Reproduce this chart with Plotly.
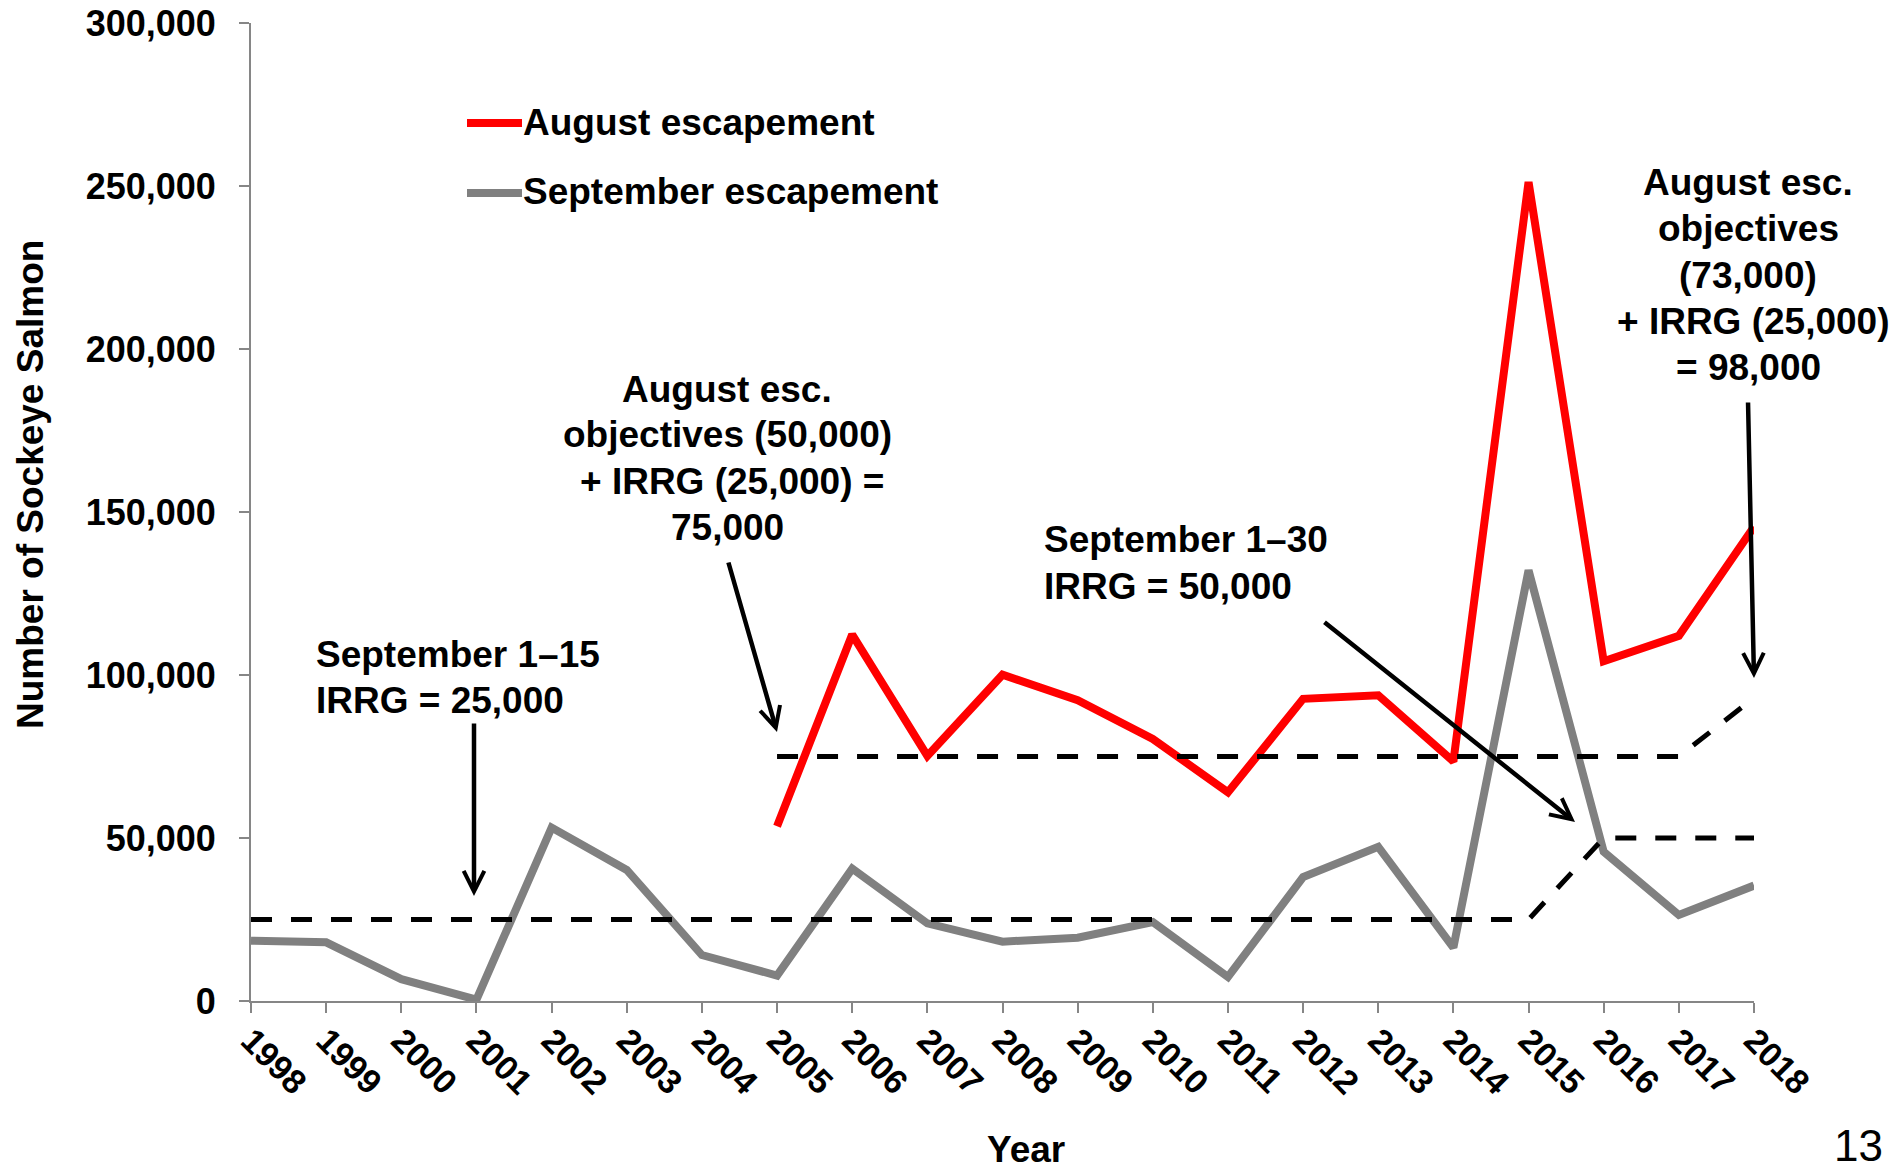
import plotly.graph_objects as go

# ---------------- data ----------------
years = [1998, 1999, 2000, 2001, 2002, 2003, 2004, 2005, 2006, 2007, 2008,
         2009, 2010, 2011, 2012, 2013, 2014, 2015, 2016, 2017, 2018]
year_labels = [str(y) for y in years]

sep_escapement = [18500, 18000, 6700, 400, 53200, 40200, 14100, 7800, 40600,
                  23800, 18200, 19400, 24200, 7400, 38000, 47300, 16400,
                  132100, 45800, 26400, 35400]

aug_years = [2005, 2006, 2007, 2008, 2009, 2010, 2011, 2012, 2013, 2014,
             2015, 2016, 2017, 2018]
aug_escapement = [53600, 112400, 75200, 100100, 92300, 80400, 64000, 92700,
                  93800, 73500, 251200, 104200, 112000, 145500]

sep_irrg = [25000, 25000, 25000, 25000, 25000, 25000, 25000, 25000, 25000,
            25000, 25000, 25000, 25000, 25000, 25000, 25000, 25000, 25000,
            50000, 50000, 50000]

aug_goal = [75000, 75000, 75000, 75000, 75000, 75000, 75000, 75000, 75000,
            75000, 75000, 75000, 75000, 93000]

y_ticks = [0, 50000, 100000, 150000, 200000, 250000, 300000]

# ---------------- layout geometry (pixels, as seen on screen) ----------------
FIG_W, FIG_H = 1903, 1168
PAGE_OFF = 8  # default body margin of the html page
L, R, T, B = 251, 1754, 23, 1001
W, H = R - L, B - T
FONT = "Liberation Sans, Arial, sans-serif"


def xp(px):
    return (px - L) / W


def yp(py):
    return (B - py) / H


fig = go.Figure()

fig.add_trace(go.Scatter(x=years, y=sep_escapement, mode="lines",
                         line=dict(color="#808080", width=8),
                         name="September escapement", showlegend=False))
fig.add_trace(go.Scatter(x=aug_years, y=aug_escapement, mode="lines",
                         line=dict(color="#FF0000", width=8),
                         name="August escapement", showlegend=False))
fig.add_trace(go.Scatter(x=years, y=sep_irrg, mode="lines",
                         line=dict(color="black", width=5, dash="21px,19px"),
                         showlegend=False))
fig.add_trace(go.Scatter(x=aug_years, y=aug_goal, mode="lines",
                         line=dict(color="black", width=5, dash="21px,19px"),
                         showlegend=False))

annotations = []


def txt(text, x, baseline, anchor="center", size=37, weight="bold",
        color="black"):
    if anchor == "left":
        x -= 4
    elif anchor == "right":
        x += 4
    annotations.append(dict(
        text=text, x=xp(x), y=yp(baseline - 0.3465 * size),
        xref="paper", yref="paper", xanchor=anchor, yanchor="middle",
        showarrow=False,
        font=dict(family=FONT, size=size, color=color, weight=weight)))


# block 1
txt("September 1–15", 318, 667, "left")
txt("IRRG = 25,000", 318, 713, "left")
# block 2
txt("August esc.", 727, 402)
txt("objectives (50,000)", 727, 447)
txt("+ IRRG (25,000) =", 732, 494)
txt("75,000", 727, 540)
# block 3
txt("September 1–30", 1046, 552, "left")
txt("IRRG = 50,000", 1046, 599, "left")
# block 4
txt("August esc.", 1748, 195)
txt("objectives", 1748, 241)
txt("(73,000)", 1748, 288)
txt("+ IRRG (25,000)", 1753, 334)
txt("= 98,000", 1748, 380)

# legend texts
txt("August escapement", 525, 135, "left")
txt("September escapement", 525, 204, "left")

# axis title x
txt("Year", 1026, 1162)
# slide number
txt("13", 1881, 1161, "right", size=44, weight="normal")

# y axis title
annotations.append(dict(
    text="Number of Sockeye Salmon", x=xp(30), y=yp(485), xref="paper",
    yref="paper", xanchor="center", yanchor="middle", textangle=-90,
    showarrow=False, font=dict(family=FONT, size=37, color="black",
                               weight="bold")))


def arrow(tip, tail):
    annotations.append(dict(
        text="", x=xp(tip[0]), y=yp(tip[1]), xref="paper", yref="paper",
        ax=tail[0] - tip[0], ay=tail[1] - tip[1], axref="pixel",
        ayref="pixel", showarrow=True, arrowhead=5, arrowsize=0.9,
        arrowwidth=4.5, arrowcolor="black", standoff=0, startstandoff=0))


arrow((474, 896), (474, 722))
arrow((777, 732), (728, 561))
arrow((1575, 822), (1323, 621))
arrow((1754, 678), (1748, 401))

shapes = [
    dict(type="line", xref="paper", yref="paper", x0=xp(467), x1=xp(522),
         y0=yp(123), y1=yp(123), line=dict(color="#FF0000", width=8)),
    dict(type="line", xref="paper", yref="paper", x0=xp(467), x1=xp(522),
         y0=yp(193), y1=yp(193), line=dict(color="#808080", width=8)),
]

fig.update_layout(
    width=FIG_W, height=FIG_H, autosize=False,
    margin=dict(l=L - PAGE_OFF, r=FIG_W - R + PAGE_OFF, t=T - PAGE_OFF,
                b=FIG_H - B + PAGE_OFF, pad=0, autoexpand=False),
    paper_bgcolor="white", plot_bgcolor="white",
    showlegend=False,
    annotations=annotations, shapes=shapes,
    font=dict(family=FONT, color="black"),
    xaxis=dict(range=[1998, 2018], tickmode="array", tickvals=years,
               ticktext=year_labels, tickangle=45, ticks="outside",
               ticklen=10, tickwidth=2, tickcolor="#868686",
               showline=True, linecolor="#868686", linewidth=2,
               showgrid=False, zeroline=False, ticklabelstandoff=-6,
               automargin=False, ticklabeloverflow="allow",
               tickfont=dict(family=FONT, size=34, color="black",
                             weight="bold")),
    yaxis=dict(range=[0, 300000], tickmode="array", tickvals=y_ticks,
               tickformat=",", ticks="outside", ticklen=10, tickwidth=2,
               tickcolor="#868686", showline=True, linecolor="#868686",
               linewidth=2, showgrid=False, zeroline=False,
               ticklabelstandoff=16, automargin=False,
               ticklabeloverflow="allow",
               tickfont=dict(family=FONT, size=36, color="black",
                             weight="bold")),
)

fig.write_html("out.html", config={"displayModeBar": False})
